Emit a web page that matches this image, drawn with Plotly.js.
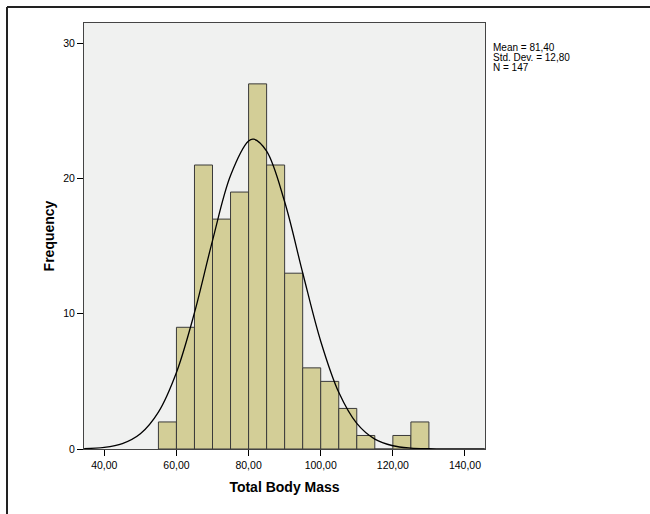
<!DOCTYPE html>
<html>
<head>
<meta charset="utf-8">
<script src="https://cdn.plot.ly/plotly-3.0.1.min.js"></script>
<style>
  html, body { margin: 0; padding: 0; background: #ffffff; }
  #chart { width: 650px; height: 514px; }
</style>
</head>
<body>
<div id="chart"></div>
<script>
// Histogram bins (lower edges, width 5) and counts
const binStarts = [55, 60, 65, 70, 75, 80, 85, 90, 95, 100, 105, 110, 115, 120, 125];
const counts    = [2, 9, 21, 17, 19, 27, 21, 13, 6, 5, 3, 1, 0, 1, 2];
const binWidth = 5;

// Normal curve points
const curveX = [34.4, 40, 45, 50, 55, 60, 65, 70, 75, 80, 81.4, 85, 90, 95, 100, 105, 110, 115, 120, 125, 130, 135, 140, 145.5];
const curveY = [0.03, 0.12, 0.40, 1.13, 2.73, 5.66, 10.08, 15.41, 20.22, 22.77, 22.91, 22.02, 18.28, 13.03, 7.97, 4.19, 1.89, 0.73, 0.24, 0.07, 0.02, 0.003, 0.0005, 0];

// Tick labels
const xTickVals = [40, 60, 80, 100, 120, 140];
const xTickText = ["40,00", "60,00", "80,00", "100,00", "120,00", "140,00"];
const yTickVals = [0, 10, 20, 30];
const yTickText = ["0", "10", "20", "30"];

// Statistics text
const statsLines = ["Mean = 81,40", "Std. Dev. = 12,80", "N = 147"];

const binCenters = binStarts.map(s => s + binWidth / 2);

const bars = {
  type: 'bar',
  x: binCenters,
  y: counts,
  width: binStarts.map(() => binWidth),
  marker: { color: '#D3CE97', line: { color: '#3a3a3a', width: 1 } },
  hoverinfo: 'x+y',
  showlegend: false
};

const curve = {
  type: 'scatter',
  mode: 'lines',
  x: curveX,
  y: curveY,
  line: { color: '#000000', width: 1.3, shape: 'spline', smoothing: 1 },
  hoverinfo: 'skip',
  showlegend: false
};

const font = 'Liberation Sans, Arial, sans-serif';

const statsAnn = statsLines.map((t, i) => ({
  text: t,
  xref: 'paper', yref: 'paper',
  x: (491 - 84) / 401,
  y: (449 - (47 + i * 10.5)) / 426,
  xanchor: 'left', yanchor: 'middle',
  showarrow: false,
  font: { family: font, size: 10, color: '#000' }
}));

const layout = {
  width: 650,
  height: 514,
  margin: { l: 84, r: 165, t: 23, b: 65, pad: 0 },
  paper_bgcolor: '#ffffff',
  plot_bgcolor: '#F0F1F0',
  bargap: 0,
  font: { family: font, size: 10.5, color: '#000' },
  xaxis: {
    range: [34.37, 145.55],
    tickmode: 'array',
    tickvals: xTickVals,
    ticktext: xTickText,
    ticks: 'outside',
    ticklen: 6,
    tickcolor: '#000',
    showgrid: false,
    zeroline: false,
    showline: true,
    linecolor: '#444',
    linewidth: 1,
    mirror: true,
    tickfont: { family: font, size: 10.5, color: '#000' },
    title: { text: 'Total Body Mass', font: { family: font, size: 14, color: '#000', weight: 'bold' }, standoff: 12 }
  },
  yaxis: {
    range: [0, 31.5],
    tickmode: 'array',
    tickvals: yTickVals,
    ticktext: yTickText,
    ticks: 'outside',
    ticklen: 6,
    tickcolor: '#000',
    showgrid: false,
    zeroline: false,
    showline: true,
    linecolor: '#444',
    linewidth: 1,
    mirror: true,
    tickfont: { family: font, size: 10.5, color: '#000' },
    title: { text: 'Frequency', font: { family: font, size: 14, color: '#000', weight: 'bold' }, standoff: 5 }
  },
  annotations: statsAnn,
  shapes: [
    { type: 'line', xref: 'paper', yref: 'paper', x0: (7 - 84) / 401, x1: (660 - 84) / 401, y0: (449 - 7) / 426, y1: (449 - 7) / 426, line: { color: '#222', width: 2 }, layer: 'above' },
    { type: 'line', xref: 'paper', yref: 'paper', x0: (7 - 84) / 401, x1: (7 - 84) / 401, y0: (449 - 7) / 426, y1: (449 - 530) / 426, line: { color: '#222', width: 2 }, layer: 'above' }
  ]
};

Plotly.newPlot('chart', [bars, curve], layout, { displayModeBar: false, staticPlot: true });
</script>
</body>
</html>
